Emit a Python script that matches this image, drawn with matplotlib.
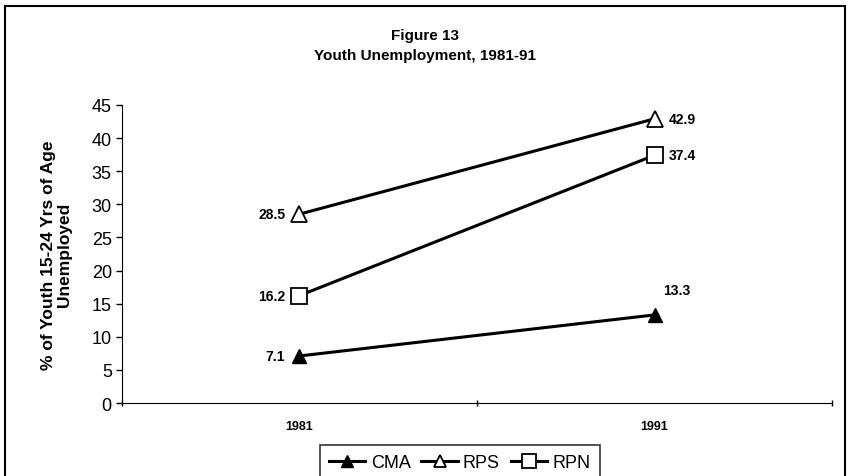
import matplotlib.pyplot as plt
from matplotlib.patches import Rectangle

plt.rcParams['font.family'] = ['Liberation Sans', 'DejaVu Sans']

years = ['1981', '1991']
cma = [7.1, 13.3]
rps = [28.5, 42.9]
rpn = [16.2, 37.4]

fig = plt.figure(figsize=(8.5, 4.77), dpi=100)
ax = fig.add_axes([0.143, 0.153, 0.836, 0.625])

x = [0.5, 1.5]
ax.plot(x, cma, color='black', lw=2.2, marker='^', ms=10, mfc='black', mec='black', label='CMA')
ax.plot(x, rps, color='black', lw=2.2, marker='^', ms=11, mfc='white', mec='black', mew=1.3, label='RPS')
ax.plot(x, rpn, color='black', lw=2.2, marker='s', ms=12, mfc='white', mec='black', mew=1.3, label='RPN')

lab = dict(fontsize=10, fontweight='bold')
for vals in (cma, rps, rpn):
    ax.annotate(f'{vals[0]}', (x[0], vals[0]), xytext=(-10, 0), textcoords='offset points',
                ha='right', va='center', **lab)
for vals in (rps, rpn):
    ax.annotate(f'{vals[1]}', (x[1], vals[1]), xytext=(10, 0), textcoords='offset points',
                ha='left', va='center', **lab)
ax.annotate(f'{cma[1]}', (x[1], cma[1]), xytext=(6, 18), textcoords='offset points',
            ha='left', va='center', **lab)

ax.set_xlim(0, 2)
ax.set_ylim(0, 45)
ax.set_yticks(range(0, 46, 5))
ax.tick_params(axis='y', labelsize=13, length=4, direction='out', width=1, pad=3)
ax.set_xticks([0, 1, 2])
ax.set_xticklabels([])
ax.set_xticks(x, minor=True)
ax.set_xticklabels(years, minor=True, fontsize=9, fontweight='bold')
ax.tick_params(axis='x', which='minor', length=0, pad=12)
ax.tick_params(axis='x', which='major', length=4, direction='inout', width=1)
for s in ('top', 'right'):
    ax.spines[s].set_visible(False)
ax.set_ylabel('% of Youth 15-24 Yrs of Age\nUnemployed', fontsize=12.5, fontweight='bold',
              labelpad=14, linespacing=1.1)

fig.text(0.5, 0.925, 'Figure 13', ha='center', va='center', fontsize=11, fontweight='bold')
fig.text(0.5, 0.882, 'Youth Unemployment, 1981-91', ha='center', va='center', fontsize=11, fontweight='bold')

leg = fig.legend(loc='lower center', bbox_to_anchor=(0.541, -0.028), ncol=3, fontsize=13,
                 frameon=True, fancybox=False, edgecolor='black', handlelength=2.0,
                 handletextpad=0.3, columnspacing=0.6, borderpad=0.5, markerscale=0.8)
leg.get_frame().set_linewidth(1.2)

fig.patches.append(Rectangle((0.006, -0.05), 0.988, 1.035, transform=fig.transFigure,
                             fill=False, edgecolor='black', lw=1.5))

fig.savefig('out.png', dpi=100)
